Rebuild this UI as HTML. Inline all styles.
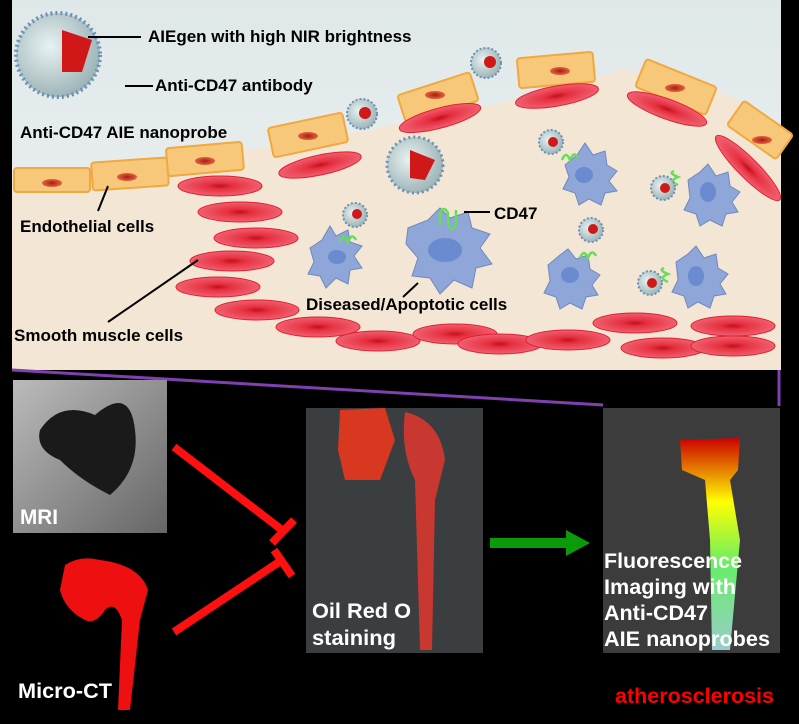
<!DOCTYPE html>
<html><head><meta charset="utf-8"><style>
html,body{margin:0;padding:0;background:#000;}
svg{display:block}
text{font-family:"Liberation Sans",Arial,sans-serif;font-weight:bold}
</style></head><body>
<svg width="799" height="724" viewBox="0 0 799 724" xmlns="http://www.w3.org/2000/svg">
<defs>
<linearGradient id="sky" x1="0" y1="0" x2="0" y2="1"><stop offset="0" stop-color="#dfe8e9"/><stop offset="1" stop-color="#f1f3f2"/></linearGradient>
<radialGradient id="smc" cx="0.5" cy="0.5" r="0.5"><stop offset="0" stop-color="#c0101a"/><stop offset="0.3" stop-color="#e63040"/><stop offset="1" stop-color="#f06070"/></radialGradient>
<radialGradient id="nuc" cx="0.5" cy="0.5" r="0.5"><stop offset="0" stop-color="#a02010"/><stop offset="1" stop-color="#e86040"/></radialGradient>
<radialGradient id="np" cx="0.4" cy="0.4" r="0.6"><stop offset="0" stop-color="#e8f2f2"/><stop offset="1" stop-color="#9fb6b8"/></radialGradient>
<linearGradient id="mri" x1="0" y1="0" x2="1" y2="1"><stop offset="0" stop-color="#bbb"/><stop offset="1" stop-color="#666"/></linearGradient>
<linearGradient id="fl" x1="0" y1="0" x2="0" y2="1"><stop offset="0" stop-color="#c00"/><stop offset="0.3" stop-color="#ff0"/><stop offset="0.6" stop-color="#6e6"/><stop offset="1" stop-color="#9cc"/></linearGradient>
</defs>
<rect x="12" y="0" width="769" height="370" fill="url(#sky)"/>
<path d="M12,175 L250,150 Q500,110 620,70 Q720,80 781,125 L781,370 L12,370 Z" fill="#f3e6d4"/>
<g fill="#f7c87a" stroke="#f0a840" stroke-width="2">
<rect x="14" y="168" width="76" height="24" rx="3"/>
<rect x="92" y="160" width="76" height="28" rx="3" transform="rotate(-4 130 175)"/>
<rect x="167" y="145" width="76" height="28" rx="3" transform="rotate(-5 205 160)"/>
<rect x="270" y="120" width="76" height="30" rx="3" transform="rotate(-12 308 135)"/>
<rect x="400" y="83" width="76" height="30" rx="3" transform="rotate(-18 438 98)"/>
<rect x="518" y="55" width="76" height="30" rx="3" transform="rotate(-5 556 70)"/>
<rect x="638" y="72" width="76" height="30" rx="3" transform="rotate(22 676 87)"/>
<rect x="730" y="115" width="60" height="30" rx="3" transform="rotate(35 760 130)"/>
</g>
<g fill="url(#nuc)"><ellipse cx="52" cy="183" rx="10" ry="4"/><ellipse cx="127" cy="177" rx="10" ry="4"/><ellipse cx="205" cy="161" rx="10" ry="4"/><ellipse cx="308" cy="136" rx="10" ry="4"/><ellipse cx="435" cy="95" rx="10" ry="4"/><ellipse cx="560" cy="71" rx="10" ry="4"/><ellipse cx="675" cy="88" rx="10" ry="4"/><ellipse cx="762" cy="140" rx="10" ry="4"/></g>
<g fill="url(#smc)" stroke="#e02030" stroke-width="1">
<ellipse cx="220" cy="186" rx="42" ry="10"/><ellipse cx="240" cy="212" rx="42" ry="10"/><ellipse cx="256" cy="238" rx="42" ry="10"/><ellipse cx="232" cy="261" rx="42" ry="10"/><ellipse cx="218" cy="287" rx="42" ry="10"/><ellipse cx="257" cy="310" rx="42" ry="10"/><ellipse cx="318" cy="327" rx="42" ry="10"/><ellipse cx="378" cy="341" rx="42" ry="10"/>
<ellipse cx="320" cy="165" rx="42" ry="10" transform="rotate(-12 320 165)"/>
<ellipse cx="440" cy="118" rx="42" ry="10" transform="rotate(-15 440 118)"/>
<ellipse cx="557" cy="96" rx="42" ry="10" transform="rotate(-10 557 96)"/>
<ellipse cx="667" cy="109" rx="42" ry="10" transform="rotate(20 667 109)"/>
<ellipse cx="748" cy="168" rx="45" ry="10" transform="rotate(45 748 168)"/>
<ellipse cx="455" cy="334" rx="42" ry="10"/><ellipse cx="500" cy="344" rx="42" ry="10"/><ellipse cx="568" cy="340" rx="42" ry="10"/><ellipse cx="635" cy="323" rx="42" ry="10"/><ellipse cx="663" cy="348" rx="42" ry="10"/><ellipse cx="733" cy="326" rx="42" ry="10"/><ellipse cx="733" cy="346" rx="42" ry="10"/>
</g>
<g fill="#8ea6d8" stroke="#7088c0" stroke-width="1">
<path d="M310,248 l12,-8 l8,-14 l6,10 l12,-6 l2,12 l12,4 l-8,10 l8,12 l-12,2 l-2,14 l-12,-6 l-10,10 l-6,-12 l-12,-2 l6,-12 z"/>
<path d="M408,228 l20,-8 l12,-12 l10,10 l18,-6 l4,16 l18,6 l-10,14 l12,16 l-16,4 l-4,20 l-18,-8 l-14,14 l-10,-16 l-18,-2 l6,-18 l-12,-14 z"/>
<path d="M565,165 l12,-10 l8,-12 l8,12 l12,-4 l2,14 l10,6 l-8,10 l8,10 l-12,2 l-4,12 l-12,-6 l-10,6 l-4,-12 l-12,-4 l6,-12 z"/>
<path d="M548,265 l12,-10 l8,-6 l8,10 l12,-4 l2,14 l10,6 l-8,10 l6,10 l-12,2 l-4,12 l-12,-6 l-10,6 l-4,-12 l-12,-4 l6,-12 z"/>
<path d="M688,180 l12,-8 l8,-8 l8,12 l12,-4 l2,14 l10,6 l-8,10 l6,10 l-12,2 l-4,12 l-12,-6 l-10,6 l-4,-12 l-12,-4 l6,-12 z"/>
<path d="M676,262 l12,-8 l8,-8 l8,12 l12,-4 l2,14 l10,6 l-8,10 l6,10 l-12,2 l-4,12 l-12,-6 l-10,6 l-4,-12 l-12,-4 l6,-12 z"/>
</g>
<g fill="#6b8bd0"><ellipse cx="337" cy="257" rx="9" ry="7"/><ellipse cx="445" cy="250" rx="17" ry="12"/><ellipse cx="584" cy="175" rx="9" ry="8"/><ellipse cx="570" cy="275" rx="9" ry="8"/><ellipse cx="708" cy="192" rx="8" ry="10"/><ellipse cx="696" cy="276" rx="8" ry="10"/></g>
<g fill="none" stroke="#66dd55" stroke-width="2.5">
<path d="M440,225 v-12 q4,-8 8,0 v12 q4,8 8,0 v-15"/>
<path d="M340,242 q4,-10 8,0 q4,-10 8,-2"/>
<path d="M562,160 q4,-10 8,0 q4,-10 8,-2"/>
<path d="M580,258 q4,-10 8,0 q4,-10 8,-2"/>
<path d="M678,185 q-10,-4 0,-8 q-10,-4 -4,-6"/>
<path d="M668,282 q-10,-4 0,-8 q-10,-4 -4,-6"/>
</g>
<g>
<circle cx="58" cy="55" r="42" fill="url(#np)" stroke="#6a90b8" stroke-width="4" stroke-dasharray="2 3"/>
<path d="M62,30 L92,40 L82,72 L62,72 Z" fill="#d01818"/>
<circle cx="415" cy="165" r="28" fill="url(#np)" stroke="#6a90b8" stroke-width="3" stroke-dasharray="2 3"/>
<path d="M410,150 L435,160 L425,180 L410,178 Z" fill="#d01818"/>
<g fill="url(#np)" stroke="#6a90b8" stroke-width="2" stroke-dasharray="2 2">
<circle cx="362" cy="114" r="15"/><circle cx="486" cy="63" r="15"/><circle cx="551" cy="142" r="12"/><circle cx="355" cy="215" r="12"/><circle cx="591" cy="230" r="12"/><circle cx="663" cy="188" r="12"/><circle cx="650" cy="283" r="12"/>
</g>
<g fill="#d01818"><circle cx="365" cy="113" r="6"/><circle cx="490" cy="62" r="6"/><circle cx="553" cy="142" r="5"/><circle cx="357" cy="214" r="5"/><circle cx="593" cy="229" r="5"/><circle cx="665" cy="188" r="5"/><circle cx="652" cy="283" r="5"/></g>
</g>
<g stroke="#000" stroke-width="2">
<line x1="88" y1="37" x2="141" y2="37"/><line x1="125" y1="86" x2="153" y2="86"/>
<line x1="108" y1="186" x2="98" y2="211"/><line x1="198" y1="260" x2="108" y2="322"/>
<line x1="464" y1="212" x2="490" y2="212"/><line x1="418" y1="283" x2="403" y2="297"/>
</g>
<g font-size="17" fill="#000">
<text x="148" y="42">AIEgen with high NIR brightness</text>
<text x="155" y="91">Anti-CD47 antibody</text>
<text x="20" y="138">Anti-CD47 AIE nanoprobe</text>
<text x="20" y="232">Endothelial cells</text>
<text x="14" y="341">Smooth muscle cells</text>
<text x="494" y="219">CD47</text>
<text x="306" y="310">Diseased/Apoptotic cells</text>
</g>
<line x1="12" y1="370" x2="603" y2="405" stroke="#8040b0" stroke-width="3"/>
<line x1="779" y1="370" x2="779" y2="406" stroke="#8040b0" stroke-width="3"/>
<rect x="13" y="380" width="154" height="153" fill="url(#mri)"/>
<path d="M40,430 Q60,400 95,415 Q130,385 135,430 Q140,470 110,495 Q80,480 60,460 Q35,450 40,430Z" fill="#1a1a1a"/>
<text x="20" y="524" font-size="21" fill="#fff" textLength="38" lengthAdjust="spacingAndGlyphs">MRI</text>
<path d="M65,565 Q80,555 100,560 Q140,565 148,590 L140,620 L130,710 L118,710 L122,620 Q115,600 105,610 Q95,625 85,620 Q65,610 60,590Z" fill="#ee1010"/>
<text x="18" y="698" font-size="21" fill="#fff" textLength="94" lengthAdjust="spacingAndGlyphs">Micro-CT</text>
<g stroke="#ff1010" stroke-width="8" fill="none">
<line x1="174" y1="447" x2="282" y2="530"/><line x1="272" y1="543" x2="294" y2="520"/>
<line x1="174" y1="632" x2="282" y2="560"/><line x1="274" y1="550" x2="292" y2="576"/>
</g>
<rect x="306" y="408" width="177" height="245" fill="#3a3e40"/>
<path d="M340,410 L385,408 L395,440 L380,480 L345,480 L338,450Z" fill="#d83820"/>
<path d="M405,412 Q440,420 445,460 L435,500 L432,650 L420,650 L415,480 Q400,450 405,412Z" fill="#c83830"/>
<text x="312" y="618" font-size="21" fill="#fff" textLength="99" lengthAdjust="spacingAndGlyphs">Oil Red O</text>
<text x="312" y="645" font-size="21" fill="#fff" textLength="84" lengthAdjust="spacingAndGlyphs">staining</text>
<rect x="490" y="538" width="78" height="10" fill="#0a9a0a"/>
<polygon points="566,530 590,543 566,556" fill="#0a9a0a"/>
<rect x="603" y="408" width="177" height="245" fill="#3c3c3c"/>
<path d="M680,440 L740,438 L738,470 L730,480 L740,540 L730,650 L712,650 L710,540 L705,480 L682,470Z" fill="url(#fl)"/>
<text x="604" y="568" font-size="21" fill="#fff" textLength="138" lengthAdjust="spacingAndGlyphs">Fluorescence</text>
<text x="604" y="594" font-size="21" fill="#fff" textLength="132" lengthAdjust="spacingAndGlyphs">Imaging with</text>
<text x="604" y="620" font-size="21" fill="#fff" textLength="104" lengthAdjust="spacingAndGlyphs">Anti-CD47</text>
<text x="604" y="646" font-size="21" fill="#fff" textLength="166" lengthAdjust="spacingAndGlyphs">AIE nanoprobes</text>
<text x="615" y="703" font-size="21" fill="#ff0000" textLength="159" lengthAdjust="spacingAndGlyphs">atherosclerosis</text>
</svg>
</body></html>
